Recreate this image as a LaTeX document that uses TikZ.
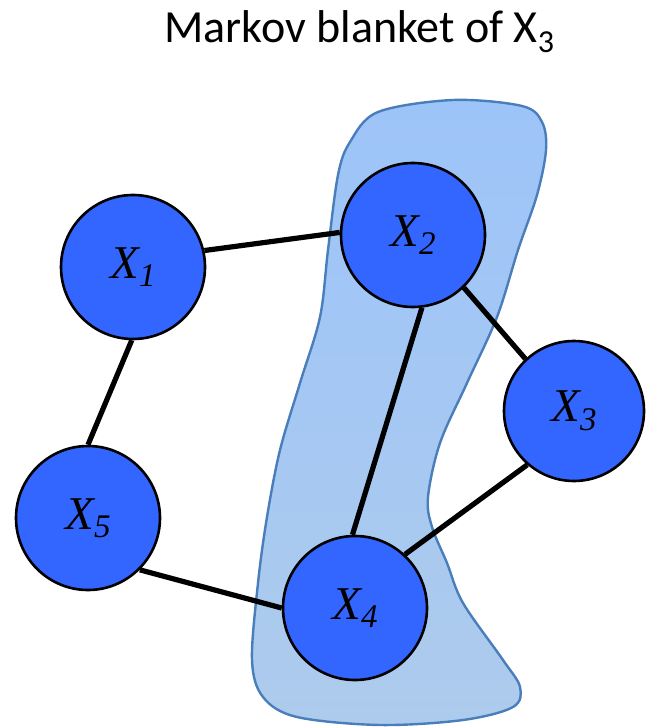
\documentclass[tikz,border=0pt]{standalone}
\usepackage{fontspec}
\setmainfont{Liberation Serif}
\newfontfamily\titlefont{Carlito}
\newfontfamily\labelfont{Liberation Serif}
\definecolor{nodeblue}{RGB}{51,102,255}
\definecolor{blobtop}{RGB}{157,196,249}
\definecolor{blobbot}{RGB}{173,203,236}
\definecolor{blobline}{RGB}{74,126,187}
\tikzset{
  vnode/.style={circle, draw=black, line width=2.6pt, fill=nodeblue, minimum size=144pt, inner sep=0pt},
  edgeline/.style={draw=black, line width=5.2pt},
  blob/.style={top color=blobtop, bottom color=blobbot, draw=blobline, line width=2.4pt},
}
\newcommand{\vlabel}[1]{{\labelfont\fontsize{47}{47}\selectfont\itshape X\raisebox{-0.18em}{\fontsize{33}{33}\selectfont #1}}}
\begin{document}
\begin{tikzpicture}[x=1pt,y=-1pt]
\useasboundingbox (0,0) rectangle (654,727);
\path[blob] plot[smooth cycle, tension=0.55] coordinates {
 (453,100) (522,106) (542,122) (546,150) (537,195) (518,250) (497,317) (467,383)
 (440,443) (428,497) (432,527) (447,563) (463,603) (503,660) (520,687) (513,707)
 (463,720) (380,725) (297,717) (263,697) (252,660) (258,583) (267,517) (280,450)
 (300,383) (320,317) (328,250) (338,175) (350,142) (378,112)};
\node[anchor=base west] (title) at (161,43) {\titlefont\fontsize{46}{46}\selectfont Markov blanket of X\raisebox{-0.2em}{\fontsize{32}{32}\selectfont 3}};
\node[vnode] (x1) at (133,267) {\vlabel{1}};
\node[vnode] (x2) at (413,235) {\vlabel{2}};
\node[vnode, minimum size=140pt] (x3) at (574,411) {\vlabel{3}};
\node[vnode] (x4) at (355,608) {\vlabel{4}};
\node[vnode] (x5) at (88,518) {\vlabel{5}};
\draw[edgeline] (x1.13) -- (x2.178);
\draw[edgeline] (x1.-91) -- (x5.90);
\draw[edgeline] (x2.-46) -- (x3.133);
\draw[edgeline] (x2.-83) -- (x4.92);
\draw[edgeline] (x3.-131) -- (x4.47);
\draw[edgeline] (x5.-45) -- (x4.180);
\end{tikzpicture}
\end{document}
